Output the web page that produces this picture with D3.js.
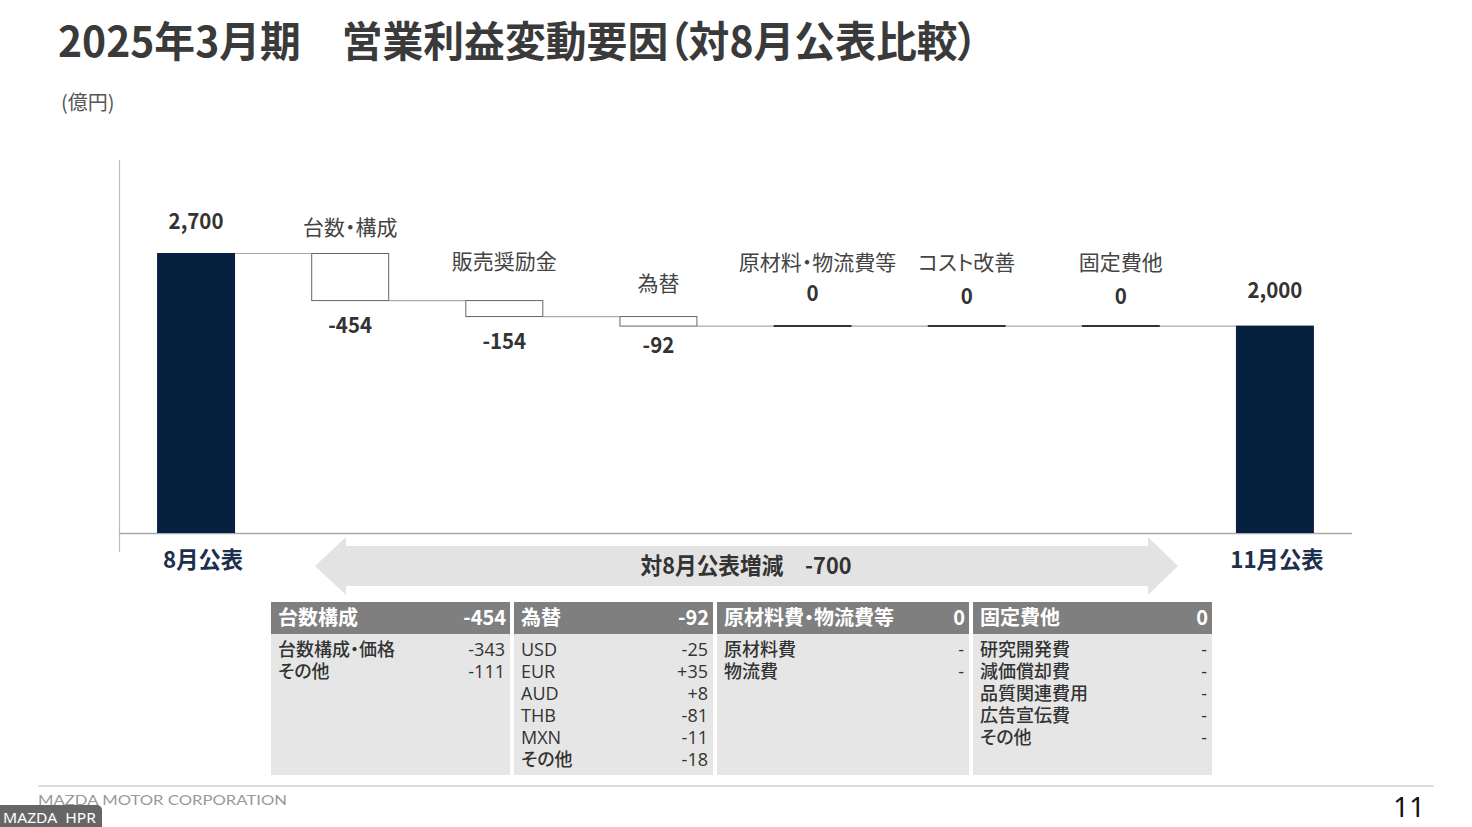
<!DOCTYPE html>
<html><head><meta charset="utf-8">
<script src="https://cdn.jsdelivr.net/npm/d3@7"></script>
<style>
html,body{margin:0;padding:0;background:#fff;}
svg{display:block;font-family:"Noto Sans CJK JP","Noto Sans",sans-serif;font-feature-settings:"palt";}
</style></head>
<body>
<svg id="c" width="1472" height="827"></svg>
<script>
// ---------- data ----------
const categories = ["8月公表","台数・構成","販売奨励金","為替","原材料・物流費等","コスト改善","固定費他","11月公表"];
const values = [2700,-454,-154,-92,0,0,0,2000];
const kinds = ["total","delta","delta","delta","delta","delta","delta","total"];
const valueLabels = ["2,700","-454","-154","-92","0","0","0","2,000"];
const yDomain = [0, 2700];

const arrowLabel = "対8月公表増減　-700";

const tableTitles = ["台数構成","為替","原材料費・物流費等","固定費他"];
const tableTotals = ["-454","-92","0","0"];
const tableRowLabels = [
  ["台数構成・価格","その他"],
  ["USD","EUR","AUD","THB","MXN","その他"],
  ["原材料費","物流費"],
  ["研究開発費","減価償却費","品質関連費用","広告宣伝費","その他"]
];
const tableRowValues = [
  ["-343","-111"],
  ["-25","+35","+8","-81","-11","-18"],
  ["-","-"],
  ["-","-","-","-","-"]
];

// ---------- layout ----------
const svg = d3.select("#c");
const x = d3.scaleBand().domain(categories).range([119,1352]).paddingInner(0.494).paddingOuter(0.247);
const y = d3.scaleLinear().domain(yDomain).range([533,253]);
const catLabelDy = [0,-18,-31,-25,-56,-56,-56,0];   // baseline offset of category label from bar top
const catLabelDx = [0,0,0,0,5,0,0,0];
const valueLabelDy = [-24,33,33,27,-25,-22,-22,-28]; // baseline offset of value label

function cond(sel,k){ sel.each(function(){ const L=this.getComputedTextLength(); d3.select(this).attr("textLength",L*k).attr("lengthAdjust","spacingAndGlyphs");}); return sel; }
function fit(sel,w){ return sel.attr("textLength",w).attr("lengthAdjust","spacingAndGlyphs"); }

// title
fit(svg.append("text").attr("x",58).attr("y",57).attr("font-size",42).attr("font-weight",700).attr("fill","#3a3a3a")
  .attr("xml:space","preserve").text("2025年3月期　営業利益変動要因（対8月公表比較）"),920);
svg.append("text").attr("x",61).attr("y",110).attr("font-size",20).attr("fill","#555").text("(億円)");

// waterfall computation
let run = 0;
const bars = categories.map((c,i)=>{
  let s,e;
  if(kinds[i]==="total"){ s=0; e=values[i]; run=values[i]; }
  else { s=run; e=run+values[i]; run=e; }
  return {c,i,s,e,v:values[i],kind:kinds[i],label:valueLabels[i]};
});

// axis lines
svg.append("line").attr("x1",119.5).attr("x2",119.5).attr("y1",160).attr("y2",552).attr("stroke","#bdbdbd").attr("stroke-width",1.2);
svg.append("line").attr("x1",119).attr("x2",1352).attr("y1",533.5).attr("y2",533.5).attr("stroke","#aaa").attr("stroke-width",1.5);

// connectors
const bw = x.bandwidth();
bars.slice(0,-1).forEach((b,i)=>{
  const level = b.e;
  svg.append("line").attr("x1",x(b.c)+bw).attr("x2",x(bars[i+1].c))
    .attr("y1",y(level)+0.5).attr("y2",y(level)+0.5).attr("stroke","#aaa").attr("stroke-width",1.2);
});

// bars
bars.forEach(b=>{
  const top = y(Math.max(b.s,b.e)), bot = y(Math.min(b.s,b.e));
  if(b.kind==="total"){
    svg.append("rect").attr("x",x(b.c)).attr("y",top).attr("width",bw).attr("height",bot-top).attr("fill","#06213f");
  } else if(b.v===0){
    svg.append("line").attr("x1",x(b.c)).attr("x2",x(b.c)+bw).attr("y1",top+0.5).attr("y2",top+0.5).attr("stroke","#333").attr("stroke-width",2);
  } else {
    svg.append("rect").attr("x",x(b.c)+0.5).attr("y",top+0.5).attr("width",bw-1).attr("height",bot-top).attr("fill","#fff").attr("stroke","#666").attr("stroke-width",1);
  }
});

// labels
bars.forEach(b=>{
  const cx = x(b.c)+bw/2;
  const top = y(Math.max(b.s,b.e)), bot = y(Math.min(b.s,b.e));
  if(b.kind==="total"){
    cond(svg.append("text").attr("x",cx).attr("y",top+valueLabelDy[b.i]).attr("text-anchor","middle").attr("font-size",22).attr("font-weight",700).attr("fill","#333").text(b.label),0.93);
    cond(svg.append("text").attr("x",cx+(b.i===0?7:2)).attr("y",568).attr("text-anchor","middle").attr("font-size",23).attr("font-weight",700).attr("fill","#1c2f4d").text(b.c),0.97);
  } else {
    svg.append("text").attr("x",cx+catLabelDx[b.i]).attr("y",top+catLabelDy[b.i]).attr("text-anchor","middle").attr("font-size",21).attr("fill","#444").text(b.c);
    const yy = b.v===0 ? top+valueLabelDy[b.i] : bot+valueLabelDy[b.i];
    cond(svg.append("text").attr("x",cx).attr("y",yy).attr("text-anchor","middle").attr("font-size",22).attr("font-weight",700).attr("fill","#333").text(b.label),0.93);
  }
});

// arrow
svg.append("path").attr("d","M315,566 L346,537 L346,546 L1148,546 L1148,537 L1178,566 L1148,595 L1148,586 L346,586 L346,595 Z").attr("fill","#e3e3e3");
fit(svg.append("text").attr("x",746).attr("y",574).attr("text-anchor","middle").attr("font-size",23).attr("font-weight",700).attr("fill","#333").attr("xml:space","preserve").text(arrowLabel),211);

// table
const panelX = [[271,510],[514,713],[717,969],[973,1212]];
tableTitles.forEach((t,i)=>{
  const [x0,x1] = panelX[i];
  svg.append("rect").attr("x",x0).attr("y",602).attr("width",x1-x0).attr("height",32).attr("fill","#7f7f7f");
  svg.append("rect").attr("x",x0).attr("y",634).attr("width",x1-x0).attr("height",141).attr("fill","#e6e6e6");
  svg.append("text").attr("x",x0+7).attr("y",625).attr("font-size",20).attr("font-weight",700).attr("fill","#fff").text(t);
  cond(svg.append("text").attr("x",x1-4).attr("y",625).attr("text-anchor","end").attr("font-size",21).attr("font-weight",700).attr("fill","#fff").text(tableTotals[i]),0.95);
  tableRowLabels[i].forEach((r,j)=>{
    const latin = /^[A-Z]+$/.test(r);
    const t2 = svg.append("text").attr("x",x0+7).attr("y",656+j*22).attr("fill","#333").text(r);
    if(latin) t2.attr("font-size",18).attr("font-family","'Open Sans',sans-serif").attr("font-weight",400);
    else t2.attr("font-size",18).attr("font-weight",500);
    svg.append("text").attr("x",x1-5).attr("y",656+j*22).attr("text-anchor","end").attr("font-size",18).attr("font-family","'Open Sans',sans-serif").attr("fill","#333").text(tableRowValues[i][j]);
  });
});

// footer
svg.append("line").attr("x1",38).attr("x2",1434).attr("y1",786).attr("y2",786).attr("stroke","#bbb").attr("stroke-width",1.2);
svg.append("text").attr("x",38).attr("y",805).attr("font-size",14).attr("font-family","Lato,sans-serif").attr("fill","#999").attr("textLength",249).attr("lengthAdjust","spacingAndGlyphs").text("MAZDA MOTOR CORPORATION");
svg.append("text").attr("x",1425).attr("y",817).attr("text-anchor","end").attr("font-size",28).attr("font-family","'Noto Sans',sans-serif").attr("fill","#111").text("11");
svg.append("rect").attr("x",-6).attr("y",805).attr("width",108).attr("height",26).attr("rx",5).attr("fill","#666");
svg.append("text").attr("x",3).attr("y",823).attr("font-size",14).attr("font-family","'Noto Sans',sans-serif").attr("fill","#fff").attr("textLength",93).attr("lengthAdjust","spacingAndGlyphs").attr("xml:space","preserve").text("MAZDA  HPR");
</script>
</body></html>
